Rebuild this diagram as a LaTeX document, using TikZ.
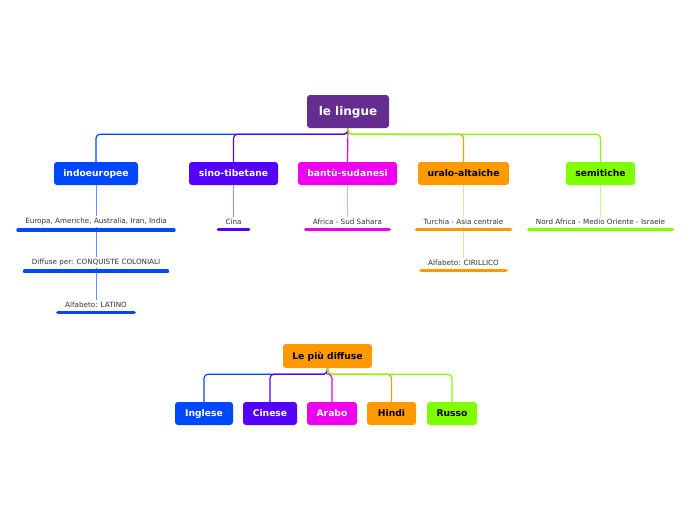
\documentclass[tikz,border=0pt]{standalone}
\usepackage{fontspec}
\setmainfont{DejaVu Sans}
\definecolor{cRoot}{HTML}{662D91}
\definecolor{cBlue}{HTML}{0048FF}
\definecolor{cViol}{HTML}{5500FF}
\definecolor{cMag}{HTML}{EE00EE}
\definecolor{cOra}{HTML}{FF9900}
\definecolor{cGre}{HTML}{80FF00}
\definecolor{cTxt}{HTML}{333333}
\tikzset{
  box/.style={rounded corners=3pt, inner sep=0pt, minimum height=23pt, font=\bfseries\fontsize{9.2}{11}\selectfont, text=white, text height=7.5pt, text depth=1.5pt},
  dark/.style={text=black},
  detail/.style={inner xsep=7pt, inner ysep=2pt, font=\fontsize{7.2}{8.5}\selectfont, text=cTxt},
  conn/.style={line width=1.2pt, rounded corners=4pt},
  sub/.style={line width=0.8pt},
  ul/.style={line width=3.6pt, line cap=round},
}
\begin{document}
\begin{tikzpicture}[x=1pt,y=-1pt]
\useasboundingbox (0,0) rectangle (696,520);
% main tree
\node[box, fill=cRoot, minimum width=82pt, minimum height=33pt, font=\bfseries\fontsize{12}{14}\selectfont, text height=9.5pt, text depth=2pt] (root) at (348,111.5) {le lingue};
\node[box, fill=cBlue, minimum width=84pt] (indo) at (96,173.5) {indoeuropee};
\node[box, fill=cViol, minimum width=89pt] (sino) at (233.5,173.5) {sino-tibetane};
\node[box, fill=cMag, minimum width=99pt] (bant) at (347.5,173.5) {bantù-sudanesi};
\node[box, fill=cOra, dark, minimum width=91pt] (ural) at (463.5,173.5) {uralo-altaiche};
\node[box, fill=cGre, dark, minimum width=69pt] (semi) at (600.5,173.5) {semitiche};

\draw[conn, cBlue] (root.south) -- ++(0,6) -| (indo.north);
\draw[conn, cViol] (root.south) -- ++(0,6) -| (sino.north);
\draw[conn, cMag] (root.south) -- (bant.north);
\draw[conn, cOra] (root.south) -- ++(0,6) -| (ural.north);
\draw[conn, cGre] (root.south) -- ++(0,6) -| (semi.north);

% details
\node[detail] (d1) at (96,221.5) {Europa, Americhe, Australia, Iran, India};
\node[detail] (d2) at (96,262.5) {Diffuse per: CONQUISTE COLONIALI};
\node[detail] (d3) at (96,304.5) {Alfabeto: LATINO};
\node[detail] (d4) at (233.5,221.5) {Cina};
\node[detail] (d5) at (347.5,221.5) {Africa - Sud Sahara};
\node[detail] (d6) at (463.5,221.5) {Turchia - Asia centrale};
\node[detail] (d7) at (463.5,262.5) {Alfabeto: CIRILLICO};
\node[detail] (d8) at (600.5,221.5) {Nord Africa - Medio Oriente - Israele};

\draw[sub, cBlue!60] (indo.south) -- (d1.north);
\draw[sub, cBlue!60] (d1.south) -- (d2.north);
\draw[sub, cBlue!60] (d2.south) -- (d3.north);
\draw[sub, cViol!50] (sino.south) -- (d4.north);
\draw[sub, cMag!40] (bant.south) -- (d5.north);
\draw[sub, cOra!40] (ural.south) -- (d6.north);
\draw[sub, cOra!40] (d6.south) -- (d7.north);
\draw[sub, cGre!50] (semi.south) -- (d8.north);

\foreach \n/\c in {d1/cBlue,d2/cBlue,d3/cBlue,d4/cViol,d5/cMag,d6/cOra,d7/cOra,d8/cGre}
  \draw[ul, \c] ([yshift=-3pt]\n.south west) -- ([yshift=-3pt]\n.south east);

% second tree
\node[box, fill=cOra, dark, minimum width=89pt, minimum height=24pt] (diff) at (327.5,356) {Le più diffuse};
\node[box, fill=cBlue, minimum width=58pt] (ing) at (204,413.5) {Inglese};
\node[box, fill=cViol, minimum width=54pt] (cin) at (270,413.5) {Cinese};
\node[box, fill=cMag, minimum width=50pt] (ara) at (332,413.5) {Arabo};
\node[box, fill=cOra, dark, minimum width=49pt] (hin) at (391.5,413.5) {Hindi};
\node[box, fill=cGre, dark, minimum width=50pt] (rus) at (452,413.5) {Russo};

\draw[conn, cBlue] (diff.south) -- ++(0,6) -| (ing.north);
\draw[conn, cViol] (diff.south) -- ++(0,6) -| (cin.north);
\draw[conn, cMag] (diff.south) -- ++(0,6) -| (ara.north);
\draw[conn, cOra] (diff.south) -- ++(0,6) -| (hin.north);
\draw[conn, cGre] (diff.south) -- ++(0,6) -| (rus.north);
\end{tikzpicture}
\end{document}
